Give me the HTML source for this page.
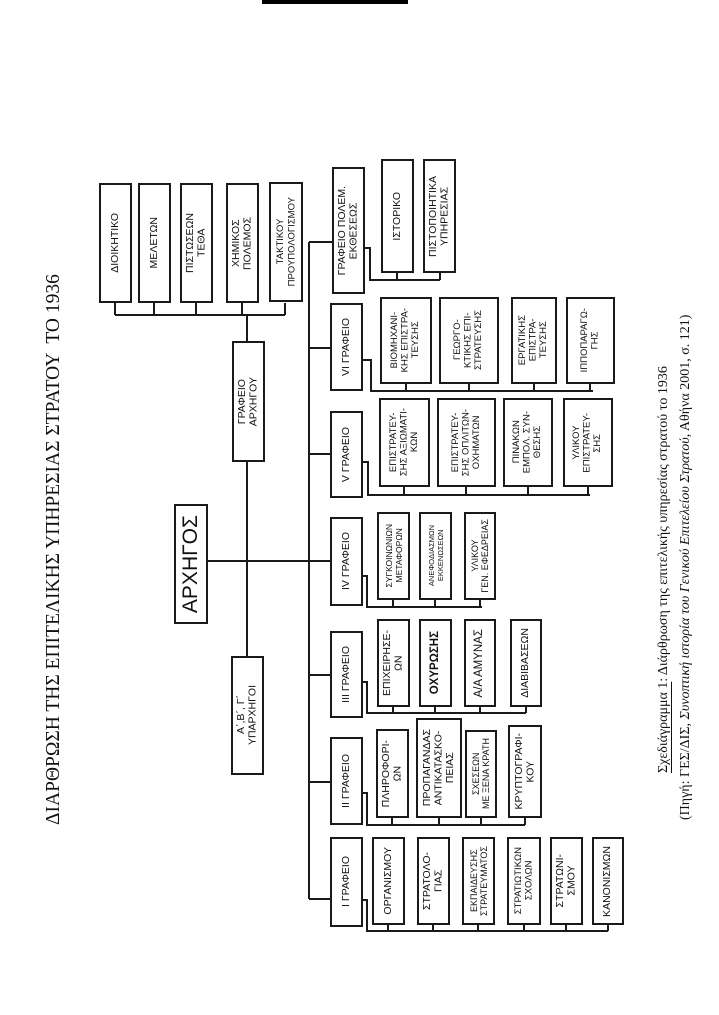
<!DOCTYPE html>
<html><head><meta charset="utf-8"><style>
html,body{margin:0;padding:0;background:#fff;}
body{width:719px;height:1015px;position:relative;overflow:hidden;font-family:"Liberation Sans","DejaVu Sans",sans-serif;color:#111;}
.b{position:absolute;border:2px solid #1a1a1a;box-sizing:border-box;display:flex;align-items:center;justify-content:center;background:#fff;}
.t{writing-mode:vertical-rl;transform:rotate(180deg);font-size:10.5px;line-height:11.5px;text-align:center;white-space:nowrap;}
.v{position:absolute;writing-mode:vertical-rl;transform:rotate(180deg);white-space:nowrap;font-family:"Liberation Serif","DejaVu Serif",serif;color:#111;}
svg{position:absolute;left:0;top:0;}
</style></head><body>
<div style="position:absolute;left:262px;top:0;width:146px;height:4px;background:#000"></div>
<svg width="719" height="1015"><g stroke="#1a1a1a" stroke-width="2" fill="none">
<path d="M115 303V315M154 303V315M196 303V315M242 303V315M285 303V315M115 315H285M247 315V341M247 462V656"/>
<path d="M207 561H309M309 242V899"/>
<path d="M309 242H332M309 348H330M309 454H330M309 561H330M309 675H330M309 782H330M309 899H330"/>
<path d="M364 248H370V280H440M397 273V280M440 273V280"/>
<path d="M362 360H371V391H593M406 384V391M469 384V391M534 384V391M590 384V391"/>
<path d="M362 462H368V495H590M404 487V495M466 487V495M528 487V495M588 487V495"/>
<path d="M362 576H367V607H482M393 600V607M435 600V607M480 600V607"/>
<path d="M362 682H367V713H526M393 707V713M435 707V713M480 707V713M526 707V713"/>
<path d="M362 793H367V825H525M392 818V825M439 818V825M481 818V825M525 818V825"/>
<path d="M362 900H367V931H608M388 925V931M433 925V931M478 925V931M524 925V931M566 925V931M608 925V931"/>
</g></svg>

<div class="v" style="left:43px;top:262px;height:563px;font-size:19.5px;line-height:22px;">ΔΙΑΡΘΡΩΣΗ ΤΗΣ ΕΠΙΤΕΛΙΚΗΣ ΥΠΗΡΕΣΙΑΣ ΣΤΡΑΤΟΥ &nbsp;ΤΟ 1936</div>
<div class="v" style="left:655px;top:278px;height:495px;font-size:14px;line-height:17px;"><u>Σχεδιάγραμμα 1</u>: Διάρθρωση της επιτελικής υπηρεσίας στρατού το 1936</div>
<div class="v" style="left:677px;top:221px;height:599px;font-size:14px;line-height:17px;">(Πηγή: ΓΕΣ/ΔΙΣ, <i>Συνοπτική ιστορία του Γενικού Επιτελείου Στρατού</i>, Αθήνα 2001, σ. 121)</div>

<div class="b" style="left:99px;top:183px;width:33px;height:120px"><div class="t">ΔΙΟΙΚΗΤΙΚΟ</div></div>
<div class="b" style="left:138px;top:183px;width:33px;height:120px"><div class="t">ΜΕΛΕΤΩΝ</div></div>
<div class="b" style="left:180px;top:183px;width:33px;height:120px"><div class="t">ΠΙΣΤΩΣΕΩΝ<br>ΤΕΘΑ</div></div>
<div class="b" style="left:226px;top:183px;width:33px;height:120px"><div class="t">ΧΗΜΙΚΟΣ<br>ΠΟΛΕΜΟΣ</div></div>
<div class="b" style="left:269px;top:182px;width:34px;height:120px"><div class="t" style="font-size:9.5px">ΤΑΚΤΙΚΟΥ<br>ΠΡΟΥΠΟΛΟΓΙΣΜΟΥ</div></div>
<div class="b" style="left:232px;top:341px;width:33px;height:121px"><div class="t">ΓΡΑΦΕΙΟ<br>ΑΡΧΗΓΟΥ</div></div>
<div class="b" style="left:174px;top:504px;width:34px;height:120px"><div class="t" style="font-size:21px;line-height:22px">ΑΡΧΗΓΟΣ</div></div>
<div class="b" style="left:231px;top:656px;width:33px;height:119px"><div class="t">Α΄,Β΄, Γ΄<br>ΥΠΑΡΧΗΓΟΙ</div></div>

<div class="b" style="left:332px;top:167px;width:33px;height:127px"><div class="t">ΓΡΑΦΕΙΟ ΠΟΛΕΜ.<br>ΕΚΘΕΣΕΩΣ</div></div>
<div class="b" style="left:381px;top:159px;width:33px;height:114px"><div class="t">ΙΣΤΟΡΙΚΟ</div></div>
<div class="b" style="left:423px;top:159px;width:33px;height:114px"><div class="t">ΠΙΣΤΟΠΟΙΗΤΙΚΑ<br>ΥΠΗΡΕΣΙΑΣ</div></div>

<div class="b" style="left:330px;top:303px;width:33px;height:88px"><div class="t">VI ΓΡΑΦΕΙΟ</div></div>
<div class="b" style="left:380px;top:297px;width:52px;height:87px"><div class="t" style="font-size:9.5px;line-height:10.5px">ΒΙΟΜΗΧΑΝΙ-<br>ΚΗΣ ΕΠΙΣΤΡΑ-<br>ΤΕΥΣΗΣ</div></div>
<div class="b" style="left:439px;top:297px;width:60px;height:87px"><div class="t" style="font-size:9.5px;line-height:10.5px">ΓΕΩΡΓΟ-<br>ΚΤΙΚΗΣ ΕΠΙ-<br>ΣΤΡΑΤΕΥΣΗΣ</div></div>
<div class="b" style="left:511px;top:297px;width:46px;height:87px"><div class="t" style="font-size:9.5px;line-height:10.5px">ΕΡΓΑΤΙΚΗΣ<br>ΕΠΙΣΤΡΑ-<br>ΤΕΥΣΗΣ</div></div>
<div class="b" style="left:566px;top:297px;width:49px;height:87px"><div class="t" style="font-size:9.5px;line-height:10.5px">ΙΠΠΟΠΑΡΑΓΩ-<br>ΓΗΣ</div></div>

<div class="b" style="left:330px;top:411px;width:33px;height:87px"><div class="t">V ΓΡΑΦΕΙΟ</div></div>
<div class="b" style="left:379px;top:398px;width:51px;height:89px"><div class="t" style="font-size:9.5px;line-height:10.5px">ΕΠΙΣΤΡΑΤΕΥ-<br>ΣΗΣ ΑΞΙΩΜΑΤΙ-<br>ΚΩΝ</div></div>
<div class="b" style="left:437px;top:398px;width:59px;height:89px"><div class="t" style="font-size:9.5px;line-height:10.5px">ΕΠΙΣΤΡΑΤΕΥ-<br>ΣΗΣ ΟΠΛΙΤΩΝ-<br>ΟΧΗΜΑΤΩΝ</div></div>
<div class="b" style="left:503px;top:398px;width:50px;height:89px"><div class="t" style="font-size:9.5px;line-height:10.5px">ΠΙΝΑΚΩΝ<br>ΕΜΠΟΛ. ΣΥΝ-<br>ΘΕΣΗΣ</div></div>
<div class="b" style="left:563px;top:398px;width:50px;height:89px"><div class="t" style="font-size:9.5px;line-height:10.5px">ΥΛΙΚΟΥ<br>ΕΠΙΣΤΡΑΤΕΥ-<br>ΣΗΣ</div></div>

<div class="b" style="left:330px;top:517px;width:33px;height:89px"><div class="t">IV ΓΡΑΦΕΙΟ</div></div>
<div class="b" style="left:377px;top:512px;width:33px;height:88px"><div class="t" style="font-size:8.5px;line-height:10px">ΣΥΓΚΟΙΝΩΝΙΩΝ<br>ΜΕΤΑΦΟΡΩΝ</div></div>
<div class="b" style="left:419px;top:512px;width:33px;height:88px"><div class="t" style="font-size:7.5px;line-height:9px">ΑΝΕΦΟΔΙΑΣΜΩΝ<br>ΕΚΚΕΝΩΣΕΩΝ</div></div>
<div class="b" style="left:464px;top:512px;width:32px;height:88px"><div class="t" style="font-size:9px;line-height:10px">ΥΛΙΚΟΥ<br>ΓΕΝ. ΕΦΕΔΡΕΙΑΣ</div></div>

<div class="b" style="left:330px;top:631px;width:33px;height:87px"><div class="t">III ΓΡΑΦΕΙΟ</div></div>
<div class="b" style="left:377px;top:619px;width:33px;height:88px"><div class="t">ΕΠΙΧΕΙΡΗΣΕ-<br>ΩΝ</div></div>
<div class="b" style="left:419px;top:619px;width:33px;height:88px"><div class="t" style="font-size:11.5px;font-weight:bold">ΟΧΥΡΩΣΗΣ</div></div>
<div class="b" style="left:464px;top:619px;width:32px;height:88px"><div class="t" style="font-size:11.5px">Α/Α ΑΜΥΝΑΣ</div></div>
<div class="b" style="left:510px;top:619px;width:32px;height:88px"><div class="t">ΔΙΑΒΙΒΑΣΕΩΝ</div></div>

<div class="b" style="left:330px;top:737px;width:33px;height:88px"><div class="t">II ΓΡΑΦΕΙΟ</div></div>
<div class="b" style="left:376px;top:729px;width:33px;height:89px"><div class="t">ΠΛΗΡΟΦΟΡΙ-<br>ΩΝ</div></div>
<div class="b" style="left:416px;top:718px;width:46px;height:100px"><div class="t">ΠΡΟΠΑΓΑΝΔΑΣ<br>ΑΝΤΙΚΑΤΑΣΚΟ-<br>ΠΕΙΑΣ</div></div>
<div class="b" style="left:465px;top:730px;width:32px;height:88px"><div class="t" style="font-size:9px;line-height:10px">ΣΧΕΣΕΩΝ<br>ΜΕ ΞΕΝΑ ΚΡΑΤΗ</div></div>
<div class="b" style="left:508px;top:725px;width:34px;height:93px"><div class="t">ΚΡΥΠΤΟΓΡΑΦΙ-<br>ΚΟΥ</div></div>

<div class="b" style="left:330px;top:837px;width:33px;height:90px"><div class="t">I ΓΡΑΦΕΙΟ</div></div>
<div class="b" style="left:372px;top:837px;width:33px;height:88px"><div class="t">ΟΡΓΑΝΙΣΜΟΥ</div></div>
<div class="b" style="left:417px;top:837px;width:33px;height:88px"><div class="t">ΣΤΡΑΤΟΛΟ-<br>ΓΙΑΣ</div></div>
<div class="b" style="left:462px;top:837px;width:33px;height:88px"><div class="t" style="font-size:9px;line-height:10px">ΕΚΠΑΙΔΕΥΣΗΣ<br>ΣΤΡΑΤΕΥΜΑΤΟΣ</div></div>
<div class="b" style="left:507px;top:837px;width:34px;height:88px"><div class="t" style="font-size:9.5px;line-height:10.5px">ΣΤΡΑΤΙΩΤΙΚΩΝ<br>ΣΧΟΛΩΝ</div></div>
<div class="b" style="left:550px;top:837px;width:33px;height:88px"><div class="t">ΣΤΡΑΤΩΝΙ-<br>ΣΜΟΥ</div></div>
<div class="b" style="left:592px;top:837px;width:32px;height:88px"><div class="t">ΚΑΝΟΝΙΣΜΩΝ</div></div>
</body></html>
